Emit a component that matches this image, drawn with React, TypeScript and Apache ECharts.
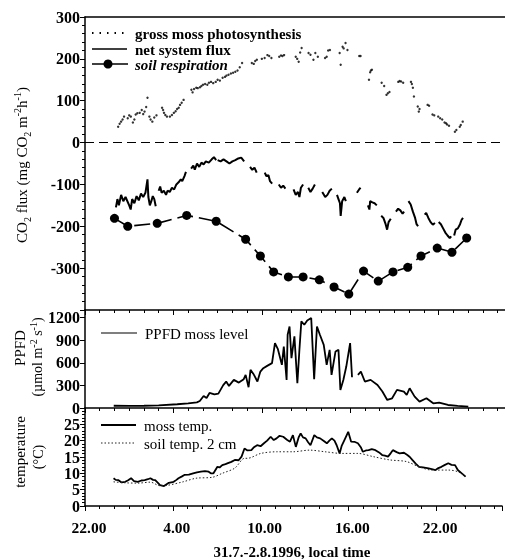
import React, { useEffect, useRef } from "react";
import * as echarts from "echarts";

// x values: hours after 22.00 on 31.7.
const xTickHours = [0, 6, 12, 18, 24];
const xTickLabels = ["22.00", "4.00", "10.00", "16.00", "22.00"];

const grossPhoto: [number, number][] = [
  [2.25, 38], [2.35, 45], [2.45, 50], [2.55, 55], [2.65, 62], [2.9, 58], [3.0, 65], [3.11, 62], [3.25, 48],
  [3.35, 55], [3.44, 67], [3.55, 70], [3.71, 71], [3.85, 78], [3.95, 68], [4.04, 74], [4.15, 85], [4.24, 107],
  [4.37, 62], [4.45, 55], [4.57, 50], [4.7, 60], [4.85, 65], [5.23, 83], [5.3, 78], [5.36, 71], [5.45, 66],
  [5.56, 62], [5.76, 62], [5.9, 66], [6.03, 71], [6.15, 75], [6.25, 80], [6.36, 83], [6.45, 90], [6.56, 95],
  [6.69, 102], [7.22, 126], [7.3, 120], [7.4, 128], [7.55, 131], [7.65, 130], [7.8, 132], [7.9, 135], [8.01, 138],
  [8.15, 140], [8.3, 138], [8.41, 143], [8.55, 145], [8.7, 142], [8.87, 145], [9.0, 150], [9.15, 148], [9.34, 155],
  [9.5, 157], [9.6, 160], [9.74, 162], [9.9, 165], [10.05, 167], [10.2, 169], [10.35, 172], [10.5, 180], [10.66, 190],
  [11.32, 190], [11.45, 188], [11.55, 195], [11.66, 198], [12.0, 200], [12.19, 202], [12.38, 209], [12.5, 207],
  [12.65, 202], [13.18, 205], [13.3, 208], [13.4, 207], [13.51, 209], [14.3, 205], [14.4, 200], [14.5, 193],
  [14.6, 215], [14.7, 226], [15.17, 214], [15.3, 210], [15.5, 198], [15.63, 214], [15.8, 205], [16.29, 202],
  [16.4, 205], [16.5, 220], [16.62, 221], [17.28, 214], [17.35, 186], [17.48, 229], [17.55, 225], [17.68, 238],
  [17.81, 221], [18.61, 207], [18.7, 207], [19.27, 150], [19.35, 168], [19.4, 172], [19.47, 174], [20.13, 143],
  [20.3, 135], [20.46, 114], [20.55, 118], [20.66, 121], [21.26, 145], [21.35, 147], [21.45, 146], [21.59, 143],
  [22.12, 145], [22.18, 140], [22.25, 131], [22.32, 110], [22.58, 86], [22.65, 74], [22.7, 80], [23.25, 90],
  [23.35, 88], [23.58, 67], [23.7, 65], [23.97, 62], [24.1, 58], [24.24, 55], [24.4, 48], [24.5, 46], [24.57, 43],
  [24.7, 40], [25.1, 26], [25.2, 30], [25.43, 38], [25.5, 42], [25.63, 50],
];

const netFlux: ([number, number] | null)[] = [
  [2.1, -155], [2.2, -135], [2.3, -150], [2.45, -125], [2.6, -140], [2.75, -130], [3.0, -150], [3.1, -160],
  [3.2, -135], [3.35, -145], [3.5, -128], [3.65, -138], [3.8, -122], [3.95, -130], [4.1, -120], [4.24, -88],
  [4.3, -130], [4.4, -150], [4.5, -140], [4.6, -128], [4.7, -135], [4.8, -152],
  null,
  [5.0, -115], [5.1, -105], [5.2, -120], [5.35, -115], [5.5, -125], [5.6, -115], [5.75, -118], [5.9, -108],
  [6.05, -112], [6.2, -100], [6.35, -95], [6.5, -88], [6.6, -92], [6.75, -80], [6.85, -70],
  null,
  [7.2, -62], [7.35, -55], [7.45, -65], [7.6, -50], [7.75, -58], [7.9, -48], [8.05, -52], [8.2, -45], [8.4, -48],
  [8.6, -40], [8.75, -35], [8.9, -42],
  null,
  [9.0, -42], [9.2, -45], [9.4, -40], [9.6, -45], [9.8, -50], [10.0, -45], [10.2, -42], [10.4, -38], [10.6, -36], [10.8, -45],
  null,
  [11.2, -58], [11.35, -65], [11.5, -60], [11.65, -72],
  null,
  [12.2, -72], [12.3, -80], [12.45, -78], [12.55, -92], [12.7, -98],
  null,
  [13.15, -100], [13.3, -108], [13.45, -103], [13.6, -110],
  null,
  [14.15, -112], [14.3, -125], [14.45, -118], [14.55, -130], [14.65, -108], [14.8, -100],
  null,
  [15.15, -108], [15.3, -118], [15.45, -110], [15.6, -100],
  null,
  [16.1, -118], [16.3, -130], [16.45, -125], [16.6, -115], [16.75, -110],
  null,
  [17.1, -125], [17.2, -135], [17.3, -145], [17.35, -175], [17.45, -140], [17.6, -130], [17.7, -140],
  null,
  [18.45, -120], [18.6, -112], [18.7, -108],
  null,
  [19.2, -150], [19.3, -160], [19.35, -140], [19.5, -143], [19.65, -145], [19.8, -150],
  null,
  [20.1, -175], [20.25, -180], [20.4, -195], [20.5, -208], [20.6, -190], [20.75, -182],
  null,
  [21.1, -165], [21.25, -158], [21.4, -162], [21.55, -170], [21.65, -165],
  null,
  [21.95, -140], [22.1, -148], [22.25, -165], [22.4, -180], [22.5, -195], [22.6, -200],
  null,
  [23.05, -172], [23.15, -168], [23.3, -180], [23.45, -190], [23.6, -196], [23.75, -192],
  null,
  [24.0, -190], [24.15, -195], [24.3, -205], [24.45, -215], [24.6, -222], [24.75, -228], [24.85, -224],
  null,
  [25.05, -222], [25.15, -208], [25.3, -205], [25.45, -195], [25.55, -185], [25.65, -180],
];

const soilRespHours = [2.0, 2.9, 4.9, 6.9, 8.9, 10.9, 11.9, 12.8, 13.8, 14.8, 15.9, 16.9, 17.9, 18.9, 19.9, 20.9, 21.9, 22.8, 23.9, 24.9, 25.9];
const soilRespValues = [-181, -200, -193, -174, -188, -231, -271, -309, -321, -321, -328, -345, -362, -307, -331, -309, -298, -271, -252, -262, -228];

const ppfd: ([number, number] | null)[] = [
  [1.95, 30], [3.0, 28], [4.0, 30], [5.0, 35], [6.26, 50], [7.0, 60], [7.59, 75], [7.79, 93], [8.05, 160],
  [8.25, 133], [8.45, 200], [8.78, 180], [9.05, 190], [9.38, 303], [9.58, 350], [9.77, 293], [10.1, 373],
  [10.44, 337], [10.77, 382], [10.9, 439], [11.1, 275], [11.23, 506], [11.43, 452], [11.7, 351], [11.9, 483],
  [12.1, 528], [12.36, 559], [12.69, 595], [12.89, 860], [13.09, 780], [13.36, 572], [13.49, 816], [13.68, 372],
  [13.75, 971], [13.88, 1082], [14.01, 660], [14.21, 950], [14.41, 328], [14.55, 772], [14.68, 1149],
  [14.88, 1104], [15.08, 1162], [15.35, 1193], [15.55, 381], [15.74, 1082], [15.94, 971], [16.2, 838],
  [16.4, 572], [16.6, 772], [16.73, 439], [17.0, 750], [17.2, 772], [17.33, 240], [17.53, 372], [17.73, 550],
  [17.99, 860], [18.12, 408],
  null,
  [18.52, 439], [18.72, 483], [18.99, 351], [19.38, 373], [19.85, 306], [20.18, 218], [20.51, 107], [20.84, 129],
  [21.17, 240], [21.64, 218], [21.83, 173], [22.03, 262], [22.37, 151], [22.7, 84], [23.17, 129], [23.63, 62],
  [24.03, 71], [24.63, 40], [25.29, 27], [26.01, 18],
];

const mossTemp: [number, number][] = [
  [1.95, 8.5], [2.1, 8.0], [2.29, 7.9], [2.5, 7.2], [2.75, 7.4], [2.95, 7.9], [3.15, 8.5], [3.35, 7.6],
  [3.61, 7.4], [3.85, 7.8], [4.08, 7.9], [4.3, 8.2], [4.47, 8.5], [4.65, 8.0], [4.8, 7.9], [5.0, 7.0],
  [5.13, 6.4], [5.4, 6.1], [5.73, 7.1], [6.06, 7.4], [6.25, 8.0], [6.39, 8.5], [6.6, 9.0], [6.79, 9.5],
  [7.1, 9.6], [7.39, 10.0], [7.65, 10.3], [7.92, 10.5], [8.2, 10.7], [8.45, 10.5], [8.6, 10.0], [8.78, 10.0],
  [9.05, 12.0], [9.2, 11.8], [9.38, 12.5], [9.6, 12.8], [9.77, 13.1], [10.0, 13.5], [10.24, 14.1], [10.5, 14.0],
  [10.7, 15.1], [10.9, 17.6], [11.1, 17.0], [11.37, 17.1], [11.55, 18.0], [11.76, 18.6], [12.0, 18.3],
  [12.23, 19.2], [12.45, 20.0], [12.69, 21.2], [12.9, 20.2], [13.09, 20.7], [13.3, 21.5], [13.55, 21.2],
  [13.8, 20.3], [14.01, 19.7], [14.21, 21.7], [14.41, 18.1], [14.6, 21.0], [14.74, 22.2], [14.9, 21.0],
  [15.08, 20.7], [15.25, 19.5], [15.41, 18.6], [15.67, 21.7], [15.85, 21.0], [16.07, 20.7], [16.3, 20.0],
  [16.53, 19.2], [16.7, 20.0], [16.87, 20.7], [17.05, 20.0], [17.2, 18.6], [17.4, 16.1], [17.55, 18.5],
  [17.73, 20.2], [17.99, 22.7], [18.19, 19.7], [18.45, 19.6], [18.65, 19.2], [18.85, 18.0], [18.99, 16.6],
  [19.2, 17.0], [19.38, 17.1], [19.6, 17.4], [19.85, 17.1], [20.1, 16.4], [20.31, 15.6], [20.5, 15.4],
  [20.71, 15.1], [20.9, 16.2], [21.04, 17.1], [21.3, 16.5], [21.5, 16.1], [21.8, 16.3], [22.03, 15.6],
  [22.2, 15.0], [22.37, 14.1], [22.6, 13.0], [22.83, 12.0], [23.1, 11.8], [23.49, 11.5], [23.7, 11.3],
  [23.96, 11.0], [24.15, 11.6], [24.36, 12.0], [24.6, 12.6], [24.83, 13.1], [25.05, 12.6], [25.29, 12.5],
  [25.48, 11.0], [25.75, 10.0], [26.01, 9.0],
];

const soilTemp: [number, number][] = [
  [1.95, 7.4], [2.75, 7.1], [3.61, 7.0], [4.47, 7.3], [5.13, 6.2], [5.6, 6.3], [6.7, 7.4], [7.59, 8.5],
  [8.72, 8.8], [9.38, 10.0], [10.24, 11.6], [10.9, 14.6], [11.1, 14.6], [12.02, 16.1], [13.09, 16.6],
  [14.21, 16.6], [15.35, 17.1], [16.41, 16.6], [17.53, 16.1], [18.65, 16.1], [19.71, 15.1], [20.84, 14.1],
  [21.97, 13.6], [22.83, 12.0], [23.7, 11.0], [24.83, 11.0], [25.48, 10.5], [26.01, 9.0],
];

const SERIF = "'Liberation Serif', 'Times New Roman', serif";
const X_MAX = 28.5;

function fmtHour(v: number): string {
  const i = xTickHours.indexOf(v);
  return i >= 0 ? xTickLabels[i] : "";
}

export default function App() {
  const ref = useRef<HTMLDivElement>(null);

  useEffect(() => {
    if (!ref.current) return;
    const chart = echarts.init(ref.current, undefined, { renderer: "svg" });

    const axisLineStyle = { color: "#000", width: 1.5 };
    const tickLabel = { color: "#000", fontFamily: SERIF, fontSize: 16, fontWeight: "bold" as const };

    const makeX = (gridIndex: number, showLabel: boolean) => ({
      type: "value" as const,
      gridIndex,
      min: 0,
      max: X_MAX,
      interval: 6,
      axisLine: { show: true, onZero: false, lineStyle: axisLineStyle },
      axisTick: { show: true, inside: false, length: 5, lineStyle: { color: "#000", width: 1 } },
      minorTick: { show: true, splitNumber: 6, length: 3, lineStyle: { color: "#000", width: 1 } },
      splitLine: { show: false },
      axisLabel: {
        show: showLabel,
        ...tickLabel,
        fontSize: 15.5,
        margin: 13,
        padding: [0, 0, 0, 8],
        formatter: (v: number) => fmtHour(v),
      },
    });

    const makeY = (gridIndex: number, min: number, max: number, interval: number, minorSplit: number, hide: number[]) => ({
      type: "value" as const,
      gridIndex,
      min,
      max,
      interval,
      axisLine: { show: true, onZero: false, lineStyle: axisLineStyle },
      axisTick: { show: true, inside: false, length: 5, lineStyle: { color: "#000", width: 1 } },
      minorTick: { show: minorSplit > 0, splitNumber: minorSplit || 5, length: 3, lineStyle: { color: "#000", width: 1 } },
      splitLine: { show: false },
      axisLabel: {
        ...tickLabel,
        margin: 5,
        formatter: (v: number) => (hide.includes(v) ? "" : String(v)),
      },
    });

    const legendText = (x: number, y: number, text: string, extra: any = {}) => ({
      type: "text",
      x,
      y,
      style: { text, fontFamily: SERIF, fontSize: 15, fill: "#000", verticalAlign: "middle", ...extra },
    });

    const option: any = {
      animation: false,
      grid: [
        { left: 85, top: 17, width: 430, height: 293 },
        { left: 85, top: 310, width: 430, height: 98 },
        { left: 85, top: 408, width: 430, height: 98 },
      ],
      xAxis: [
        makeX(0, false),
        makeX(1, false),
        makeX(2, true),
        {
          type: "value",
          gridIndex: 0,
          position: "top",
          min: 0,
          max: X_MAX,
          axisLine: { show: true, onZero: false, lineStyle: axisLineStyle },
          axisTick: { show: false },
          axisLabel: { show: false },
          splitLine: { show: false },
        },
      ],
      yAxis: [
        makeY(0, -400, 300, 100, 5, [-400]),
        makeY(1, 0, 1300, 300, 0, []),
        makeY(2, 0, 30, 5, 5, [30]),
      ],
      series: [
        {
          name: "gross moss photosynthesis",
          type: "scatter",
          xAxisIndex: 0,
          yAxisIndex: 0,
          data: grossPhoto,
          symbol: "circle",
          symbolSize: 2.4,
          itemStyle: { color: "#000" },
        },
        {
          name: "net system flux",
          type: "line",
          xAxisIndex: 0,
          yAxisIndex: 0,
          data: netFlux.map((d) => (d ? d : [null, null])),
          connectNulls: false,
          showSymbol: false,
          symbol: "none",
          lineStyle: { color: "#000", width: 2 },
          markLine: {
            silent: true,
            symbol: "none",
            label: { show: false },
            lineStyle: { color: "#000", width: 1.2, type: [9, 5] },
            data: [{ yAxis: 0 }],
          },
        },
        {
          name: "soil respiration",
          type: "line",
          xAxisIndex: 0,
          yAxisIndex: 0,
          data: soilRespHours.map((h, i) => [h, soilRespValues[i]]),
          symbol: "circle",
          symbolSize: 9,
          itemStyle: { color: "#000" },
          lineStyle: { color: "#000", width: 1.6, type: [16, 6] },
        },
        {
          name: "PPFD moss level",
          type: "line",
          xAxisIndex: 1,
          yAxisIndex: 1,
          data: ppfd.map((d) => (d ? d : [null, null])),
          connectNulls: false,
          symbol: "none",
          lineStyle: { color: "#000", width: 1.8 },
        },
        {
          name: "moss temp.",
          type: "line",
          xAxisIndex: 2,
          yAxisIndex: 2,
          data: mossTemp,
          symbol: "none",
          lineStyle: { color: "#000", width: 1.8 },
        },
        {
          name: "soil temp. 2 cm",
          type: "line",
          xAxisIndex: 2,
          yAxisIndex: 2,
          data: soilTemp,
          symbol: "none",
          smooth: 0.3,
          lineStyle: { color: "#222", width: 1, type: [1.5, 2] },
        },
      ],
      graphic: [
        // top legend
        { type: "line", shape: { x1: 92, y1: 33, x2: 126, y2: 33 }, style: { stroke: "#000", lineWidth: 2, lineDash: [1.5, 6] } },
        legendText(135, 34, "gross moss photosynthesis", { fontWeight: "bold" }),
        { type: "line", shape: { x1: 92, y1: 49, x2: 127, y2: 49 }, style: { stroke: "#000", lineWidth: 1.5 } },
        legendText(135, 50, "net system flux", { fontWeight: "bold" }),
        { type: "line", shape: { x1: 92, y1: 64, x2: 128, y2: 64 }, style: { stroke: "#000", lineWidth: 1.5 } },
        { type: "circle", shape: { cx: 108, cy: 64, r: 4.5 }, style: { fill: "#000" } },
        legendText(135, 65, "soil respiration", { fontWeight: "bold", fontStyle: "italic" }),
        // PPFD legend
        { type: "line", shape: { x1: 101, y1: 333, x2: 137, y2: 333 }, style: { stroke: "#000", lineWidth: 1.2 } },
        legendText(145, 334, "PPFD moss level"),
        // temperature legend
        { type: "line", shape: { x1: 101, y1: 425, x2: 136, y2: 425 }, style: { stroke: "#000", lineWidth: 2 } },
        legendText(144, 426, "moss temp."),
        { type: "line", shape: { x1: 101, y1: 443, x2: 136, y2: 443 }, style: { stroke: "#222", lineWidth: 1, lineDash: [1.5, 2] } },
        legendText(144, 444, "soil temp. 2 cm"),
        // y axis names
        {
          type: "text",
          x: 22,
          y: 165,
          rotation: Math.PI / 2,
          style: {
            text: "{a|CO}{s|2}{a| flux (mg CO}{s|2}{a| m}{p|-2}{a|h}{p|-1}{a|)}",
            align: "center",
            verticalAlign: "middle",
            rich: {
              a: { fontFamily: SERIF, fontSize: 15, fill: "#000", lineHeight: 20, verticalAlign: "middle" },
              s: { fontFamily: SERIF, fontSize: 10, fill: "#000", lineHeight: 20, verticalAlign: "bottom" },
              p: { fontFamily: SERIF, fontSize: 10, fill: "#000", lineHeight: 20, verticalAlign: "top" },
            },
          },
        },
        {
          type: "text",
          x: 20,
          y: 348,
          rotation: Math.PI / 2,
          style: { text: "PPFD", fontFamily: SERIF, fontSize: 15, fill: "#000", align: "center", verticalAlign: "middle" },
        },
        {
          type: "text",
          x: 37,
          y: 357,
          rotation: Math.PI / 2,
          style: {
            text: "{a|(\u00b5mol m}{p|-2}{a| s}{p|-1}{a|)}",
            align: "center",
            verticalAlign: "middle",
            rich: {
              a: { fontFamily: SERIF, fontSize: 14, fill: "#000", lineHeight: 18, verticalAlign: "middle" },
              p: { fontFamily: SERIF, fontSize: 10, fill: "#000", lineHeight: 18, verticalAlign: "top" },
            },
          },
        },
        {
          type: "text",
          x: 20,
          y: 452,
          rotation: Math.PI / 2,
          style: { text: "temperature", fontFamily: SERIF, fontSize: 15, fill: "#000", align: "center", verticalAlign: "middle" },
        },
        {
          type: "text",
          x: 38,
          y: 457,
          rotation: Math.PI / 2,
          style: { text: "(\u00b0C)", fontFamily: SERIF, fontSize: 14, fill: "#000", align: "center", verticalAlign: "middle" },
        },
        // x axis title
        {
          type: "text",
          x: 292,
          y: 552,
          style: {
            text: "31.7.-2.8.1996, local time",
            fontFamily: SERIF,
            fontSize: 15,
            fontWeight: "bold",
            fill: "#000",
            align: "center",
            verticalAlign: "middle",
          },
        },
      ],
    };

    chart.setOption(option);
    return () => chart.dispose();
  }, []);

  return <div ref={ref} style={{ position: "fixed", left: 0, top: 0, width: 505, height: 559, overflow: "hidden" }} />;
}
